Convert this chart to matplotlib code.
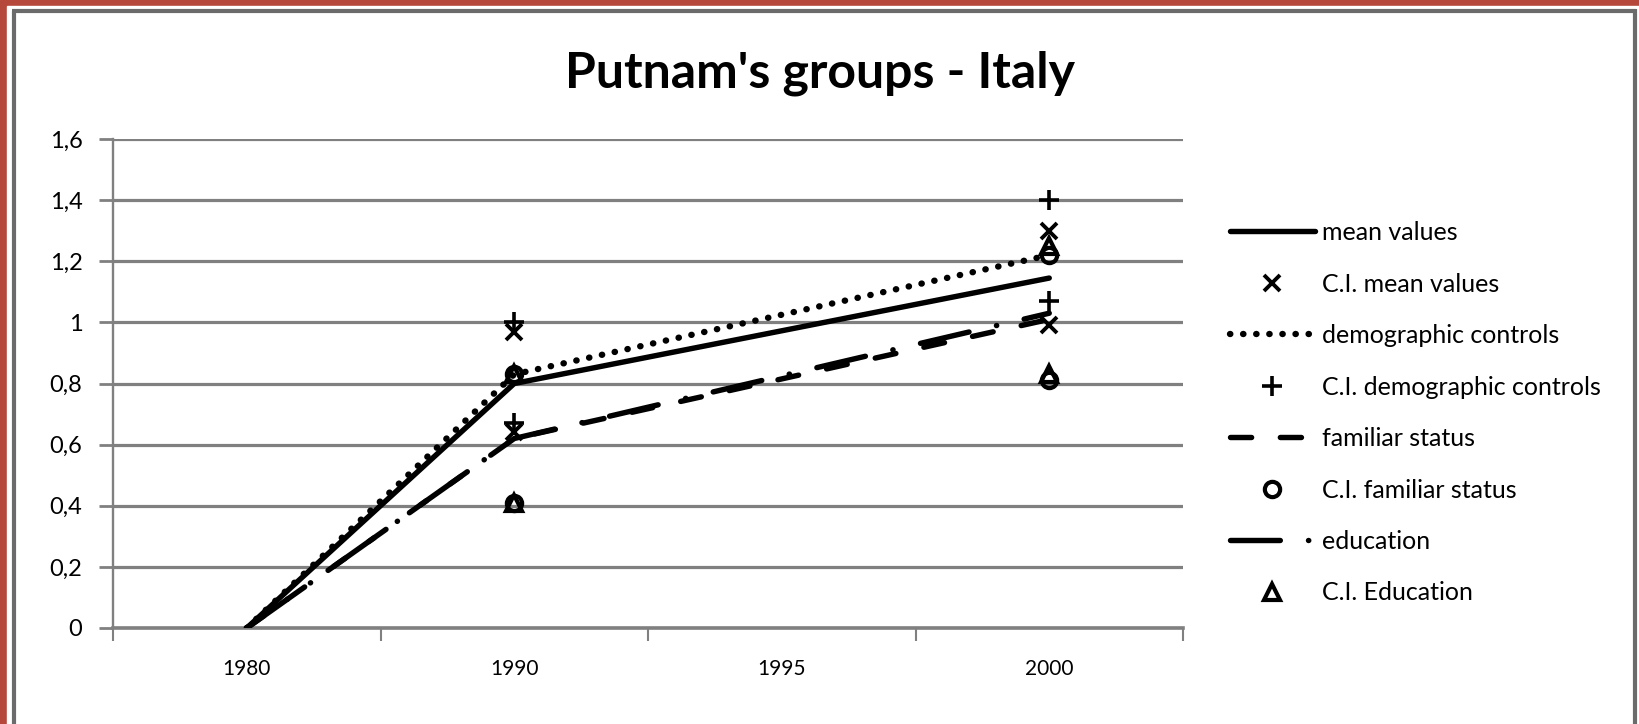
import numpy as np
import matplotlib
matplotlib.use('Agg')
import matplotlib.pyplot as plt
from matplotlib.patches import Rectangle
from matplotlib.lines import Line2D

plt.rcParams['font.family'] = ['Lato', 'DejaVu Sans']

# categorie e valori
years = ['1980', '1990', '1995', '2000']
mean_values = [0, 0.80, None, 1.145]
demographic = [0, 0.83, None, 1.22]
familiar = [0, 0.62, None, 1.01]
education = [0, 0.62, None, 1.03]

# intervalli di confidenza (basso, alto) per anno
ci_mean = {'1990': (0.64, 0.97), '2000': (0.99, 1.30)}
ci_demo = {'1990': (0.67, 1.00), '2000': (1.07, 1.40)}
ci_fam = {'1990': (0.41, 0.83), '2000': (0.81, 1.22)}
ci_edu = {'1990': (0.41, 0.83), '2000': (0.83, 1.25)}

y_ticks = [0, 0.2, 0.4, 0.6, 0.8, 1, 1.2, 1.4, 1.6]
y_labels = ['0', '0,2', '0,4', '0,6', '0,8', '1', '1,2', '1,4', '1,6']

W, H = 1640, 724
fig = plt.figure(figsize=(W / 100, H / 100), dpi=100)

# cornice rossa + bordo grigio
fig.patches.append(Rectangle((0, 0), 1, 1, transform=fig.transFigure,
                             color='#b5483a', zorder=-10))
fig.patches.append(Rectangle((7 / W, 0), 1, 1 - 6 / H, transform=fig.transFigure,
                             color='white', zorder=-9))
grey = '#6b6b6b'
fig.add_artist(Line2D([14 / W, 14 / W], [0, 1 - 10.5 / H], transform=fig.transFigure,
                      color=grey, lw=3, solid_capstyle='butt'))
fig.add_artist(Line2D([12 / W, 1636 / W], [1 - 10.5 / H, 1 - 10.5 / H], transform=fig.transFigure,
                      color=grey, lw=3, solid_capstyle='butt'))
fig.add_artist(Line2D([1635.5 / W, 1635.5 / W], [0, 1 - 9 / H], transform=fig.transFigure,
                      color=grey, lw=3, solid_capstyle='butt'))

ax = fig.add_axes([113 / W, 1 - 628 / H, (1183 - 113) / W, (628 - 139) / H])


def xy(vals):
    xs = [i for i, v in enumerate(vals) if v is not None]
    ys = [v for v in vals if v is not None]
    return xs, ys


def ci_xy(ci):
    xs, ys = [], []
    for yr, (lo, hi) in ci.items():
        i = years.index(yr)
        xs += [i, i]
        ys += [lo, hi]
    return xs, ys


lw = 3.9
x, y = xy(mean_values)
ax.plot(x, y, color='black', lw=lw, solid_capstyle='round', label='mean values', zorder=5)
x, y = ci_xy(ci_mean)
ax.plot(x, y, ls='none', marker='x', ms=11, mew=2.8, color='black', label='C.I. mean values', zorder=6)
x, y = xy(demographic)
ax.plot(x, y, color='black', lw=4.6, ls=(0, (0.05, 2.0)), dash_capstyle='round',
        label='demographic controls', zorder=5)
x, y = ci_xy(ci_demo)
ax.plot(x, y, ls='none', marker='+', ms=14, mew=2.6, color='black', label='C.I. demographic controls', zorder=6)
x, y = xy(familiar)
ax.plot(x, y, color='black', lw=lw, ls=(0, (3.9, 5.3)), dash_capstyle='round',
        label='familiar status', zorder=5)
x, y = ci_xy(ci_fam)
ax.plot(x, y, ls='none', marker='o', ms=11, mew=3, mfc='none', color='black',
        label='C.I. familiar status', zorder=6)
x, y = xy(education)
ax.plot(x, y, color='black', lw=lw, ls=(0, (9.2, 5.2, 0.05, 5.2)), dash_capstyle='round',
        label='education', zorder=5)
x, y = ci_xy(ci_edu)
ax.plot(x, y, ls='none', marker='^', ms=11, mew=3, mfc='none', color='black',
        label='C.I. Education', zorder=6)

# assi
ax.set_xlim(-0.5, 3.5)
ax.set_ylim(0, 1.6)
ax.set_xticks(np.arange(-0.5, 4, 1))
ax.set_xticklabels([])
ax.set_xticks(range(len(years)), minor=True)
ax.set_xticklabels(years, minor=True, fontsize=15)
ax.tick_params(axis='x', which='major', direction='out', length=9, width=1.5, color='#808080')
ax.tick_params(axis='x', which='minor', length=0, pad=22)
ax.set_yticks(y_ticks)
ax.set_yticklabels(y_labels, fontsize=17)
ax.tick_params(axis='y', direction='out', length=10, width=2, color='#808080', pad=12)
ax.yaxis.grid(True, color='#808080', lw=2.3)
ax.set_axisbelow(True)
for s in ['top', 'right']:
    ax.spines[s].set_visible(False)
ax.spines['left'].set_color('#808080')
ax.spines['left'].set_linewidth(1.7)
ax.spines['bottom'].set_color('#808080')
ax.spines['bottom'].set_linewidth(2.6)

fig.text(0.5, 1 - 73 / H, "Putnam's groups - Italy", ha='center', va='center',
         fontsize=36, fontweight='bold')

fig.legend(loc='upper left', bbox_to_anchor=(1230 / W, 1 - 221 / H), frameon=False,
           fontsize=18, handlelength=3.4, handletextpad=0.3, labelspacing=1.14,
           borderpad=0, borderaxespad=0, numpoints=1)

fig.savefig('out.png', dpi=100)
